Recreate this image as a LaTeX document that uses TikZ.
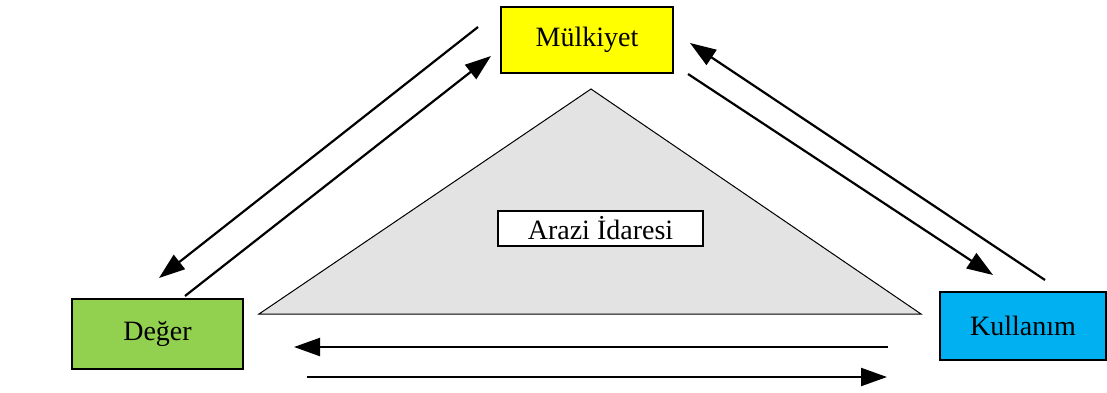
\documentclass[tikz,border=0pt]{standalone}
\usepackage{fontspec}
\setmainfont{Liberation Serif}
\usetikzlibrary{arrows.meta}

\definecolor{mulkyellow}{HTML}{FFFF00}
\definecolor{degergreen}{HTML}{92D050}
\definecolor{kullblue}{HTML}{00B0F0}
\definecolor{trigray}{HTML}{E3E3E3}

\tikzset{
    kutu/.style={draw, line width=0.8pt, rectangle, inner sep=0pt, font=\fontsize{14}{16}\selectfont},
    ok/.style={line width=1.1pt, -{Triangle[length=13pt, width=9pt]}}
}

\begin{document}
\begin{tikzpicture}[x=0.5pt, y=-0.5pt]
        \useasboundingbox (0,0) rectangle (1107,392);
        % triangle in the middle
        \draw[fill=trigray, line width=0.5pt] (591,89) -- (259,314) -- (921,314) -- cycle;
        \node[kutu, fill=white, minimum width=102.5pt, minimum height=17.5pt] (arazi) at (600.5,228.5) {Arazi İdaresi};
        % boxes
        \node[kutu, fill=mulkyellow, minimum width=86pt, minimum height=33pt] (mulk) at (587,40) {Mülkiyet};
        \node[kutu, fill=degergreen, minimum width=85.5pt, minimum height=35pt] (deger) at (157.5,334) {Değer};
        \node[kutu, fill=kullblue, minimum width=83pt, minimum height=34pt] (kull) at (1023,326) {Kullanım};
        % arrow ends
        \coordinate (mulkA) at (478,27);
        \coordinate (mulkB) at (491,56);
        \coordinate (mulkC) at (690,43);
        \coordinate (mulkD) at (688,74);
        \coordinate (degerA) at (159,278);
        \coordinate (degerB) at (185,296);
        \coordinate (degerC) at (294,347);
        \coordinate (degerD) at (307,377);
        \coordinate (kullA) at (1045,280);
        \coordinate (kullB) at (993,275);
        \coordinate (kullC) at (888,347);
        \coordinate (kullD) at (887,377);
        % arrows
        \draw[ok] (mulkA) -- (degerA);
        \draw[ok] (degerB) -- (mulkB);
        \draw[ok] (kullA) -- (mulkC);
        \draw[ok] (mulkD) -- (kullB);
        \draw[ok] (kullC) -- (degerC);
        \draw[ok] (degerD) -- (kullD);
    \end{tikzpicture}
\end{document}
